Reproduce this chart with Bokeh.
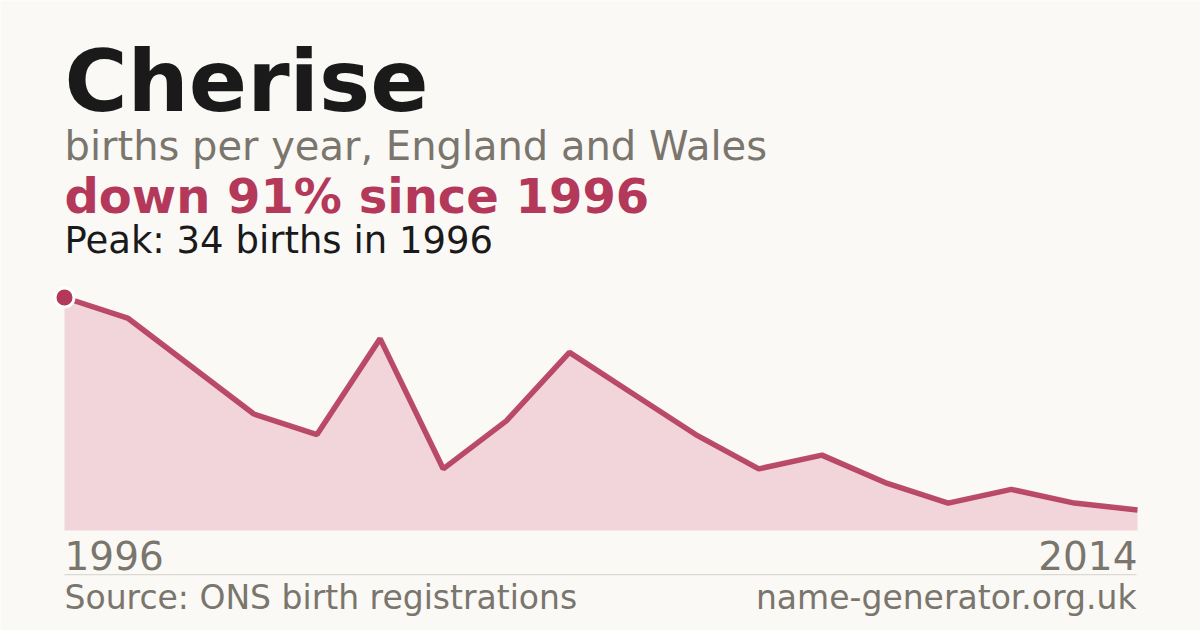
from bokeh.plotting import figure
from bokeh.models import Label, BoxAnnotation, Range1d
from bokeh.embed import file_html
from bokeh.resources import INLINE

# Données : naissances par an (Cherise, Angleterre et Pays de Galles)
births = [34, 31, 24, 17, 14, 28, 9, 16, 26, 20, 14, 9, 11, 7, 4, 6, 4, 3]
end_labels = ["1996", "2014"]
name = "Cherise"
subtitle = "births per year, England and Wales"
change_text = "down 91% since 1996"
peak_text = "Peak: 34 births in 1996"
source_text = "Source: ONS birth registrations"
site_text = "name-generator.org.uk"

BG = "#faf9f5"
DARK = "#1a1a1a"
GREY = "#7a756d"
RED = "#b3385a"
FILL = "#f2d5db"
FONT = "DejaVu Sans"

W, H = 1200, 630
# zone du graphique (pixels de l'image)
left_px, right_px = 64, 1137
top_val_px, base_px = 297, 530

xs = list(range(len(births)))
px_x = (right_px - left_px) / (len(births) - 1)
px_y = (base_px - top_val_px) / max(births)

x0 = xs[0] - left_px / px_x
x1 = xs[-1] + (W - right_px) / px_x
y0 = -(H - base_px) / px_y
y1 = base_px / px_y

p = figure(width=W, height=H, output_backend="svg", toolbar_location=None,
           x_range=Range1d(x0, x1), y_range=Range1d(y0, y1),
           min_border=0, min_border_left=0, min_border_right=0,
           min_border_top=0, min_border_bottom=0)
p.axis.visible = False
p.grid.visible = False
p.outline_line_color = None
p.background_fill_color = BG
p.border_fill_color = BG

p.varea(x=xs, y1=[0] * len(births), y2=births, fill_color=FILL)
p.line(x=xs, y=births, line_color=RED, line_width=5.5, line_alpha=0.9)
p.scatter(x=[xs[0]], y=[births[0]], size=19, fill_color=RED, line_color="white", line_width=3)


def add_text(txt, page_x, base_y, size, color, bold=False, align="left", x_units="screen"):
    # la ligne de base est placée à base_y (pixels depuis le haut)
    y = H - (base_y - 0.346 * size) + 2
    p.add_layout(Label(x=page_x, y=y, x_units=x_units, y_units="screen", text=txt,
                       text_font=FONT, text_font_size=f"{size}px", text_color=color,
                       text_font_style="bold" if bold else "normal",
                       text_align=align, text_baseline="middle"))


add_text(name, 64, 112, 86, DARK, bold=True)
add_text(subtitle, 64, 161, 40, GREY)
add_text(change_text, 64, 214, 48, RED, bold=True)
add_text(peak_text, 64, 255, 37, DARK)

# années de début et de fin
add_text(end_labels[0], xs[0], 570, 39, GREY, x_units="data")
add_text(end_labels[1], xs[-1], 570, 39, GREY, align="right", x_units="data")

# séparateur
p.add_layout(BoxAnnotation(left=64, right=1136, top=H - 573.5, bottom=H - 574.7,
                           left_units="screen", right_units="screen",
                           top_units="screen", bottom_units="screen",
                           fill_color="#dcd9d2", fill_alpha=1, line_color=None))

add_text(source_text, 64, 610, 33, GREY)
add_text(site_text, 1136, 610, 33, GREY, align="right")

open("out.html", "w").write(file_html(p, INLINE))
